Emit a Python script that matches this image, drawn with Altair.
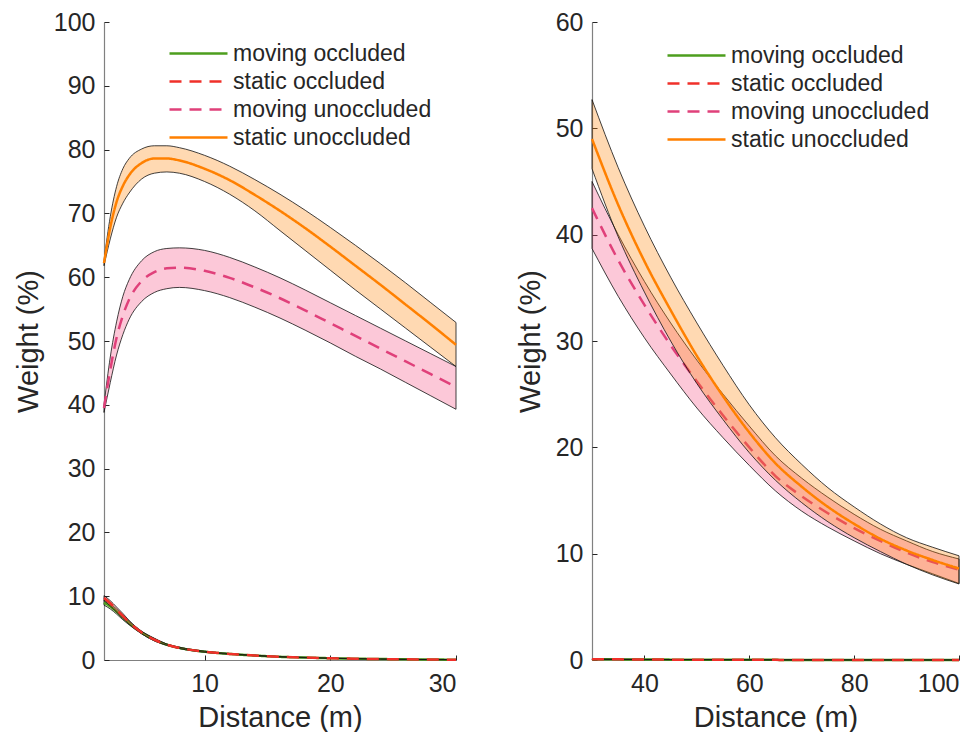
import altair as alt
import pandas as pd

FONT = "Liberation Sans"
TXT = "#262626"

SERIES = ["moving occluded", "static occluded", "moving unoccluded", "static unoccluded"]
LINE_COLORS = ["#4d9e1e", "#f0302a", "#e0407a", "#ff8000"]
FILL_COLORS = ["#4d9e1e", "#f0302a", "#f5487d", "#ff8000"]
DASHES = [[1, 0], [12, 8], [12, 8], [1, 0]]

# ---------------- left panel (2-30 m) ----------------
xL = [2, 2.5, 3, 3.5, 4, 5, 6, 7, 8, 10, 12, 14, 16, 18, 20, 22, 24, 26, 28, 30]

L_mov_occ_mean = [9.0, 8.4, 7.6, 6.7, 5.8, 4.3, 3.2, 2.4, 1.9, 1.3, 0.95, 0.7, 0.5, 0.38, 0.28, 0.2, 0.15, 0.1, 0.07, 0.05]
L_mov_occ_lo = [8.6, 8.0, 7.2, 6.3, 5.5, 4.1, 3.0, 2.3, 1.8, 1.22, 0.9, 0.66, 0.47, 0.35, 0.26, 0.18, 0.13, 0.09, 0.06, 0.04]
L_mov_occ_hi = [9.4, 8.8, 8.0, 7.1, 6.1, 4.5, 3.4, 2.5, 2.0, 1.38, 1.0, 0.74, 0.53, 0.41, 0.3, 0.22, 0.17, 0.11, 0.08, 0.06]

L_sta_occ_mean = [9.7, 8.9, 7.9, 6.9, 5.9, 4.3, 3.2, 2.4, 1.9, 1.3, 0.95, 0.7, 0.5, 0.38, 0.28, 0.2, 0.15, 0.1, 0.07, 0.05]
L_sta_occ_lo = [9.3, 8.5, 7.5, 6.5, 5.6, 4.1, 3.0, 2.3, 1.8, 1.22, 0.9, 0.66, 0.47, 0.35, 0.26, 0.18, 0.13, 0.09, 0.06, 0.04]
L_sta_occ_hi = [10.1, 9.3, 8.3, 7.3, 6.2, 4.5, 3.4, 2.5, 2.0, 1.38, 1.0, 0.74, 0.53, 0.41, 0.3, 0.22, 0.17, 0.11, 0.08, 0.06]

L_mov_unocc_mean = [39.5, 45.5, 50.5, 54.0, 56.5, 59.4, 60.8, 61.4, 61.5, 61.0, 59.9, 58.4, 56.7, 54.8, 52.8, 50.8, 48.8, 46.8, 44.8, 42.8]
L_mov_unocc_lo = [38.8, 43.5, 47.8, 51.0, 53.4, 56.2, 57.6, 58.2, 58.4, 57.9, 56.8, 55.3, 53.6, 51.7, 49.7, 47.6, 45.6, 43.5, 41.4, 39.3]
L_mov_unocc_hi = [40.0, 47.5, 53.0, 57.0, 59.6, 62.6, 64.0, 64.5, 64.6, 64.2, 63.1, 61.6, 59.9, 58.0, 56.0, 54.0, 52.0, 50.0, 48.0, 46.0]

L_sta_unocc_mean = [62.2, 67.8, 71.8, 74.3, 76.0, 77.9, 78.6, 78.6, 78.3, 77.0, 75.2, 72.9, 70.4, 67.7, 64.8, 61.8, 58.8, 55.7, 52.6, 49.4]
L_sta_unocc_lo = [61.8, 66.0, 69.4, 71.6, 73.2, 75.4, 76.3, 76.5, 76.3, 75.0, 73.0, 70.4, 67.3, 64.2, 61.1, 58.0, 55.0, 52.0, 49.0, 46.0]
L_sta_unocc_hi = [62.6, 69.5, 74.2, 77.0, 78.6, 80.1, 80.6, 80.6, 80.3, 79.1, 77.4, 75.3, 73.0, 70.5, 67.8, 65.0, 62.1, 59.1, 56.0, 52.9]

# ---------------- right panel (30-100 m) ----------------
xR = [30, 35, 40, 45, 50, 55, 60, 65, 70, 75, 80, 85, 90, 95, 100]

R_mov_occ_mean = [0.08, 0.06, 0.045, 0.035, 0.027, 0.02, 0.016, 0.012, 0.01, 0.008, 0.006, 0.005, 0.004, 0.003, 0.003]
R_mov_occ_lo = [0.06, 0.045, 0.034, 0.026, 0.02, 0.015, 0.012, 0.009, 0.007, 0.006, 0.004, 0.003, 0.003, 0.002, 0.002]
R_mov_occ_hi = [0.1, 0.075, 0.056, 0.044, 0.034, 0.025, 0.02, 0.015, 0.013, 0.01, 0.008, 0.007, 0.005, 0.004, 0.004]
R_sta_occ_mean = R_mov_occ_mean
R_sta_occ_lo = R_mov_occ_lo
R_sta_occ_hi = R_mov_occ_hi

R_mov_unocc_mean = [42.5, 37.6, 33.4, 29.6, 26.2, 23.0, 20.0, 17.3, 15.4, 13.8, 12.4, 11.2, 10.1, 9.2, 8.5]
R_mov_unocc_lo = [38.7, 34.2, 30.3, 26.9, 23.7, 20.9, 18.3, 15.9, 14.0, 12.5, 11.2, 10.0, 9.0, 8.1, 7.2]
R_mov_unocc_hi = [45.0, 40.0, 35.6, 31.7, 28.2, 25.0, 22.0, 19.2, 17.1, 15.3, 13.7, 12.3, 11.2, 10.2, 9.5]

R_sta_unocc_mean = [49.0, 42.8, 37.5, 32.9, 28.6, 24.8, 21.4, 18.5, 16.3, 14.4, 12.8, 11.4, 10.3, 9.4, 8.6]
R_sta_unocc_lo = [46.2, 39.8, 34.6, 30.0, 26.0, 22.6, 19.5, 16.9, 14.8, 13.0, 11.5, 10.2, 9.0, 8.0, 7.15]
R_sta_unocc_hi = [52.7, 46.3, 40.8, 36.0, 31.7, 27.7, 24.0, 20.9, 18.4, 16.2, 14.4, 12.8, 11.5, 10.6, 9.8]

L_TICKS_X = [10, 20, 30]
L_TICKS_Y = list(range(0, 101, 10))
R_TICKS_X = [40, 60, 80, 100]
R_TICKS_Y = list(range(0, 61, 10))


def build_df(x, means, los, his):
    rows = []
    for s, m, lo, hi in zip(SERIES, means, los, his):
        for xi, mi, l, h in zip(x, m, lo, hi):
            rows.append(dict(x=xi, series=s, mean=mi, lo=l, hi=h))
    return pd.DataFrame(rows)


dfL = build_df(xL,
               [L_mov_occ_mean, L_sta_occ_mean, L_mov_unocc_mean, L_sta_unocc_mean],
               [L_mov_occ_lo, L_sta_occ_lo, L_mov_unocc_lo, L_sta_unocc_lo],
               [L_mov_occ_hi, L_sta_occ_hi, L_mov_unocc_hi, L_sta_unocc_hi])
dfR = build_df(xR,
               [R_mov_occ_mean, R_sta_occ_mean, R_mov_unocc_mean, R_sta_unocc_mean],
               [R_mov_occ_lo, R_sta_occ_lo, R_mov_unocc_lo, R_sta_unocc_lo],
               [R_mov_occ_hi, R_sta_occ_hi, R_mov_unocc_hi, R_sta_unocc_hi])


def panel(df, xdom, xticks, ydom, yticks, w, h, legx, legy):
    xs = alt.Scale(domain=xdom, nice=False, zero=False)
    ys = alt.Scale(domain=ydom, nice=False, zero=False)
    base = alt.Chart(df)

    main_axes = base.mark_point(opacity=0).encode(
        x=alt.X("x:Q", scale=xs, axis=alt.Axis(
            values=xticks, title="Distance (m)", ticks=False, grid=False, orient="bottom",
            domainColor="#808080", domainWidth=1.2, labelFontSize=25, labelColor=TXT,
            labelPadding=11, titleFontSize=29, titleColor=TXT, titleFontWeight="normal",
            titlePadding=7)),
        y=alt.Y("mean:Q", scale=ys, axis=alt.Axis(
            values=yticks, title="Weight (%)", ticks=False, grid=False, orient="left",
            domainColor="#808080", domainWidth=1.2, labelFontSize=25, labelColor=TXT,
            labelPadding=9, titleFontSize=29, titleColor=TXT, titleFontWeight="normal",
            titlePadding=10)),
    )
    tick_axes = base.mark_point(opacity=0).encode(
        x=alt.X("x:Q", scale=xs, axis=alt.Axis(
            values=xticks, title=None, labels=False, domain=False, ticks=True, tickSize=5,
            offset=-5, orient="bottom", tickColor=TXT, grid=False)),
        y=alt.Y("mean:Q", scale=ys, axis=alt.Axis(
            values=yticks, title=None, labels=False, domain=False, ticks=True, tickSize=5,
            offset=-5, orient="left", tickColor=TXT, grid=False)),
    )

    leg = alt.Legend(
        orient="none", legendX=legx, legendY=legy, title=None, labelFontSize=23,
        labelColor=TXT, symbolType="M-5.8,0H5.8", symbolSize=100, symbolStrokeWidth=2.5,
        labelOffset=23, rowPadding=4, padding=0, labelLimit=400,
    )

    layers = [main_axes, tick_axes]
    for i in [0, 1, 2, 3]:
        s = SERIES[i]
        sub = base.transform_filter(alt.datum.series == s)
        band = sub.mark_area(
            fill=FILL_COLORS[i], fillOpacity=0.3, stroke="#111111", strokeWidth=0.8,
            interpolate="monotone").encode(
            x=alt.X("x:Q", scale=xs, axis=None),
            y=alt.Y("lo:Q", scale=ys, axis=None),
            y2="hi:Q",
        )
        line = sub.mark_line(strokeWidth=2.5, interpolate="monotone").encode(
            x=alt.X("x:Q", scale=xs, axis=None),
            y=alt.Y("mean:Q", scale=ys, axis=None),
            color=alt.Color("series:N", scale=alt.Scale(domain=SERIES, range=LINE_COLORS), legend=leg),
            strokeDash=alt.StrokeDash("series:N", scale=alt.Scale(domain=SERIES, range=DASHES), legend=leg),
        )
        layers += [band, line]

    return alt.layer(*layers).resolve_axis(x="independent", y="independent").properties(width=w, height=h)


left = panel(dfL, [2, 30], L_TICKS_X, [0, 100], L_TICKS_Y, 352, 638, 83, 20)
right = panel(dfR, [30, 100], R_TICKS_X, [0, 60], R_TICKS_Y, 367, 638, 93, 22)

chart = alt.hconcat(left, right, spacing=55).resolve_scale(
    color="independent", strokeDash="independent"
).properties(
    padding={"left": 14, "top": 10, "right": 5, "bottom": 0}
).configure_view(stroke=None).configure_axis(
    labelFont=FONT, titleFont=FONT
).configure_legend(labelFont=FONT)

chart.save("out.html", embed_options={"renderer": "svg", "actions": False})
